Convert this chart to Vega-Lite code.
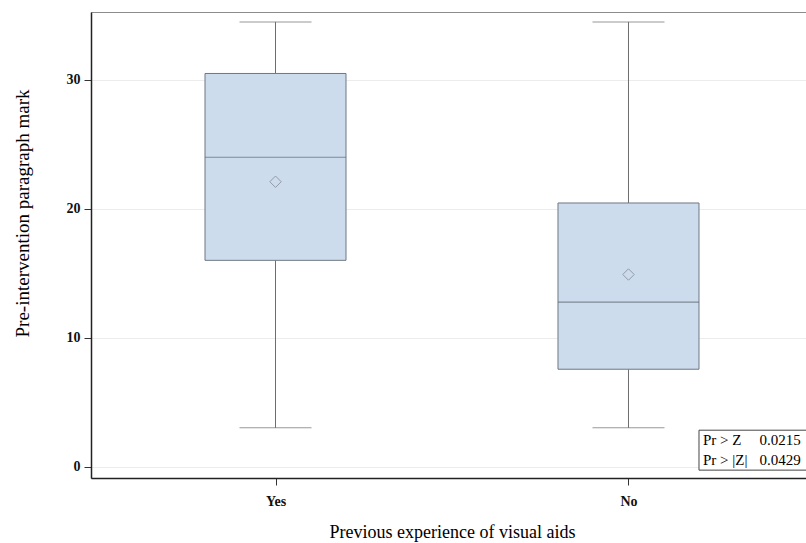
{
  "$schema": "https://vega.github.io/schema/vega-lite/v6.json",
  "autosize": "none",
  "padding": {"left": 91, "top": 12, "right": 0, "bottom": 65},
  "width": 722,
  "height": 466,
  "background": "white",
  "config": {
    "view": {"stroke": "#8c8c8c", "strokeWidth": 1},
    "font": "Liberation Serif"
  },
  "datasets": {
    "boxes": [
      {"group": "Yes", "min": 3, "q1": 16, "median": 24, "q3": 30.5, "max": 34.5, "mean": 22.1},
      {"group": "No", "min": 3, "q1": 7.55, "median": 12.75, "q3": 20.45, "max": 34.5, "mean": 14.9}
    ],
    "stats": [
      {"stat": "Pr > Z", "p": "0.0215"},
      {"stat": "Pr > |Z|", "p": "0.0429"}
    ]
  },
  "resolve": {"scale": {"x": "independent"}},
  "layer": [
    {
      "data": {"name": "boxes"},
      "encoding": {
        "x": {
          "field": "group",
          "type": "nominal",
          "sort": ["Yes", "No"],
          "scale": {"type": "point", "padding": 0.5227},
          "axis": {
            "title": "Previous experience of visual aids",
            "titleFont": "Liberation Serif",
            "titleFontSize": 18,
            "titleFontWeight": "normal",
            "titleColor": "#000",
            "titlePadding": 15,
            "labelFont": "Liberation Serif",
            "labelFontSize": 14,
            "labelFontWeight": "bold",
            "labelColor": "#111",
            "labelAngle": 0,
            "labelPadding": 9,
            "tickSize": 7,
            "tickColor": "#333",
            "domainColor": "#222",
            "domainWidth": 1.5,
            "grid": false
          }
        },
        "y": {
          "type": "quantitative",
          "scale": {"domain": [-0.89, 35.27], "nice": false, "zero": false},
          "axis": {
            "title": "Pre-intervention paragraph mark",
            "values": [0, 10, 20, 30],
            "titleFont": "Liberation Serif",
            "titleFontSize": 19,
            "titleFontWeight": "normal",
            "titleColor": "#000",
            "titleX": -69,
            "titleY": 201,
            "titleBaseline": "middle",
            "labelFont": "Liberation Serif",
            "labelFontSize": 14,
            "labelFontWeight": "bold",
            "labelColor": "#111",
            "labelPadding": 4,
            "tickSize": 7,
            "tickColor": "#333",
            "domainColor": "#222",
            "domainWidth": 1.5,
            "grid": true,
            "gridColor": "#ececec",
            "gridWidth": 1
          }
        }
      },
      "layer": [
        {
          "mark": {"type": "rule", "color": "#6e6e6e", "strokeWidth": 1},
          "encoding": {"y": {"field": "min"}, "y2": {"field": "q1"}}
        },
        {
          "mark": {"type": "rule", "color": "#6e6e6e", "strokeWidth": 1},
          "encoding": {"y": {"field": "q3"}, "y2": {"field": "max"}}
        },
        {
          "mark": {"type": "tick", "color": "#6e6e6e", "size": 72, "thickness": 1, "orient": "horizontal"},
          "encoding": {"y": {"field": "min"}}
        },
        {
          "mark": {"type": "tick", "color": "#6e6e6e", "size": 72, "thickness": 1, "orient": "horizontal"},
          "encoding": {"y": {"field": "max"}}
        },
        {
          "mark": {"type": "bar", "size": 141, "fill": "#cddced", "stroke": "#6f7783", "strokeWidth": 1},
          "encoding": {"y": {"field": "q1"}, "y2": {"field": "q3"}}
        },
        {
          "mark": {"type": "tick", "color": "#5f6670", "size": 141, "thickness": 1.2, "orient": "horizontal"},
          "encoding": {"y": {"field": "median"}}
        },
        {
          "mark": {"type": "point", "shape": "diamond", "filled": false, "size": 130, "stroke": "#7a7f88", "strokeWidth": 1},
          "encoding": {"y": {"field": "mean"}}
        }
      ]
    },
    {
      "data": {"name": "stats"},
      "transform": [{"filter": "datum.stat === 'Pr > Z'"}],
      "mark": {"type": "rect", "fill": "white", "stroke": "#444", "strokeWidth": 1},
      "encoding": {
        "x": {"datum": 0.8421, "type": "quantitative", "scale": {"domain": [0, 1]}, "axis": null},
        "x2": {"datum": 1.05},
        "y": {"datum": 2.82, "type": "quantitative"},
        "y2": {"datum": -0.28}
      }
    },
    {
      "data": {"name": "stats"},
      "transform": [{"filter": "datum.stat === 'Pr > Z'"}],
      "layer": [
        {
          "mark": {"type": "text", "align": "left", "baseline": "middle", "font": "Liberation Serif", "fontSize": 15, "color": "#000"},
          "encoding": {
            "x": {"datum": 0.8476, "type": "quantitative", "scale": {"domain": [0, 1]}, "axis": null},
            "y": {"datum": 2.05, "type": "quantitative"},
            "text": {"field": "stat"}
          }
        },
        {
          "mark": {"type": "text", "align": "left", "baseline": "middle", "font": "Liberation Serif", "fontSize": 15, "color": "#000"},
          "encoding": {
            "x": {"datum": 0.926, "type": "quantitative", "scale": {"domain": [0, 1]}, "axis": null},
            "y": {"datum": 2.05, "type": "quantitative"},
            "text": {"field": "p"}
          }
        }
      ]
    },
    {
      "data": {"name": "stats"},
      "transform": [{"filter": "datum.stat === 'Pr > |Z|'"}],
      "layer": [
        {
          "mark": {"type": "text", "align": "left", "baseline": "middle", "font": "Liberation Serif", "fontSize": 15, "color": "#000"},
          "encoding": {
            "x": {"datum": 0.8476, "type": "quantitative", "scale": {"domain": [0, 1]}, "axis": null},
            "y": {"datum": 0.5, "type": "quantitative"},
            "text": {"field": "stat"}
          }
        },
        {
          "mark": {"type": "text", "align": "left", "baseline": "middle", "font": "Liberation Serif", "fontSize": 15, "color": "#000"},
          "encoding": {
            "x": {"datum": 0.926, "type": "quantitative", "scale": {"domain": [0, 1]}, "axis": null},
            "y": {"datum": 0.5, "type": "quantitative"},
            "text": {"field": "p"}
          }
        }
      ]
    }
  ]
}
